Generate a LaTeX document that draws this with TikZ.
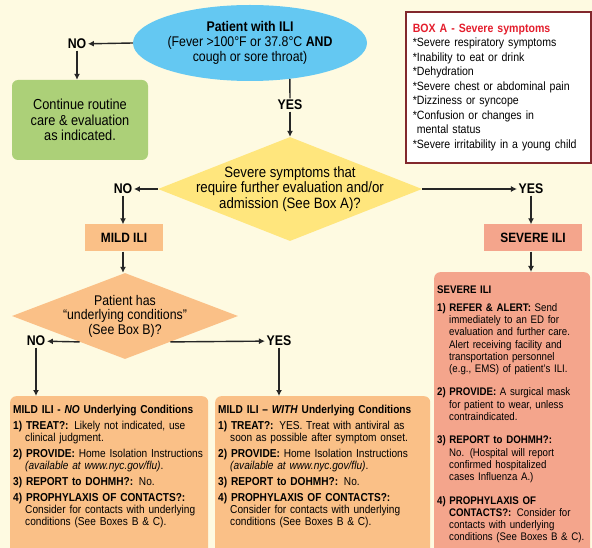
\documentclass[tikz,border=0pt]{standalone}
\usepackage{fontspec}
\setmainfont{Liberation Sans}[FakeStretch=0.88]
\usetikzlibrary{shapes,arrows.meta,positioning,calc}
\definecolor{PageCream}{RGB}{254, 250, 225}
\definecolor{SkyBlue}{RGB}{100, 200, 242}
\definecolor{LeafGreen}{RGB}{172, 208, 120}
\definecolor{SunYellow}{RGB}{255, 230, 125}
\definecolor{PeachMild}{RGB}{250, 192, 135}
\definecolor{SalmonSevere}{RGB}{244, 165, 140}
\definecolor{BoxRed}{RGB}{228, 30, 45}
\definecolor{BoxMaroon}{RGB}{130, 40, 45}
\newcommand{\careitem}[3]{{\hangindent=12pt\hangafter=1\noindent\textbf{#1)~#2} #3\par}}

\begin{document}
\begin{tikzpicture}[x=1pt, y=-1pt,
  flow/.style={line width=1.4pt, draw=black!85, -{Latex[length=6pt,width=6pt]}},
  plain/.style={line width=1.4pt, draw=black!85},
  answer/.style={font=\bfseries\fontsize{14}{16}\selectfont, inner sep=1.5pt},
  tagbox/.style={font=\bfseries\fontsize{13.5}{16}\selectfont, minimum height=27pt, inner sep=0pt},
  question/.style={diamond, shape aspect=2.6, inner sep=0pt},
  actionbox/.style={anchor=north west, rounded corners=6pt, text width=#1, align=left,
    inner xsep=3pt, inner ysep=9pt, font=\fontsize{11.5}{12}\selectfont,
    execute at begin node=\setlength{\parskip}{4pt}}]
  % Page
  \fill[PageCream] (0,0) rectangle (592,548);
  \useasboundingbox (0,0) rectangle (592,548);

  % Start
  \node[ellipse, fill=SkyBlue, minimum width=234pt, minimum height=76pt, inner sep=0pt,
    align=center, font=\fontsize{14}{15}\selectfont] (ili) at (250,43)
    {\textbf{Patient with ILI}\\(Fever >100°F or 37.8°C \textbf{AND}\\cough or sore throat)};

  % Box A
  \node[draw=BoxMaroon, line width=1.6pt, fill=white, anchor=north west, text width=171pt,
    align=left, inner sep=7pt, minimum height=151pt, font=\fontsize{12}{14.5}\selectfont] (boxA) at (405,11)
    {\textcolor{BoxRed}{\textbf{BOX A - Severe symptoms}}\\
     {*}Severe respiratory symptoms\\
     {*}Inability to eat or drink\\
     {*}Dehydration\\
     {*}Severe chest or abdominal pain\\
     {*}Dizziness or syncope\\
     {*}Confusion or changes in\\
     \hspace*{4pt}mental status\\
     {*}Severe irritability in a young child};

  % No ILI path
  \node[answer] (noTop) at (77,44) {NO};
  \draw[flow] (ili.west) -- (noTop);
  \node[fill=LeafGreen, rounded corners=6pt, minimum width=136pt, minimum height=80pt,
    align=center, font=\fontsize{14.5}{15.5}\selectfont] (routine) at (80,120)
    {Continue routine\\care \& evaluation\\as indicated.};
  \draw[flow] (noTop) -- (noTop |- routine.north);

  % Severity question
  \node[answer] (yesTop) at (290,105) {YES};
  \draw[plain] (ili.-42) -- (yesTop);
  \node[question, fill=SunYellow, minimum width=264pt, minimum height=104pt,
    label={[align=center, font=\fontsize{15}{15.5}\selectfont]center:Severe symptoms that\\require further evaluation and/or\\admission (See Box A)?}] (severe) at (290,189) {};
  \draw[flow] (yesTop) -- (severe.north);

  \node[answer] (noMid) at (123,189) {NO};
  \draw[flow] (severe.west) -- (noMid);
  \node[answer] (yesMid) at (531,189) {YES};
  \draw[flow] (severe.east) -- (yesMid);

  \node[tagbox, fill=PeachMild, minimum width=78pt] (mild) at (124,238) {MILD ILI};
  \draw[flow] (noMid) -- (noMid |- mild.north);
  \node[tagbox, fill=SalmonSevere, minimum width=98pt] (sevTag) at (533,238) {SEVERE ILI};
  \draw[flow] (yesMid) -- (yesMid |- sevTag.north);

  % Underlying conditions question
  \node[question, fill=PeachMild, minimum width=226pt, minimum height=86pt,
    label={[align=center, font=\fontsize{14}{14.5}\selectfont]center:Patient has\\``underlying conditions''\\(See Box B)?}] (cond) at (125,316) {};
  \draw[flow] (mild.south -| noMid) -- (noMid |- cond.north);

  \node[answer] (noLow) at (36,341) {NO};
  \draw[flow] ($(cond.west)!0.6!(cond.south)$) -- (noLow);
  \node[answer] (yesLow) at (279,341) {YES};
  \draw[flow] ($(cond.east)!0.6!(cond.south)$) -- (yesLow);

  % Action boxes (they run off the bottom of the page)
  \node[actionbox=192pt, fill=PeachMild] (mildNo) at (10,396)
    {\textbf{MILD ILI - \textit{NO} Underlying Conditions}\par
     \careitem{1}{TREAT?:}{Likely not indicated, use\newline clinical judgment.}
     \careitem{2}{PROVIDE:}{Home Isolation Instructions\newline\textit{(available at www.nyc.gov/flu)}.}
     \careitem{3}{REPORT to DOHMH?:}{No.}
     \careitem{4}{PROPHYLAXIS OF CONTACTS?:}{\newline Consider for contacts with underlying\newline conditions (See Boxes B \& C).}
     \noindent\rule{0pt}{30pt}};
  \node[actionbox=209pt, fill=PeachMild] (mildYes) at (215,396)
    {\textbf{MILD ILI -- \textit{WITH} Underlying Conditions}\par
     \careitem{1}{TREAT?:}{YES. Treat with antiviral as\newline soon as possible after symptom onset.}
     \careitem{2}{PROVIDE:}{Home Isolation Instructions\newline\textit{(available at www.nyc.gov/flu)}.}
     \careitem{3}{REPORT to DOHMH?:}{No.}
     \careitem{4}{PROPHYLAXIS OF CONTACTS?:}{\newline Consider for contacts with underlying\newline conditions (See Boxes B \& C).}
     \noindent\rule{0pt}{30pt}};
  \node[actionbox=150pt, fill=SalmonSevere, inner ysep=14pt, font=\fontsize{11}{12.3}\selectfont] (sevCare) at (434,272)
    {\setlength{\parskip}{11pt}\textbf{SEVERE ILI}\par\vspace{-6pt}
     \careitem{1}{REFER \& ALERT:}{Send\newline immediately to an ED for\newline evaluation and further care.\newline Alert receiving facility and\newline transportation personnel\newline (e.g., EMS) of patient's ILI.}
     \careitem{2}{PROVIDE:}{A surgical mask\newline for patient to wear, unless\newline contraindicated.}
     \careitem{3}{REPORT to DOHMH?:}{\newline No. (Hospital will report\newline confirmed hospitalized\newline cases Influenza A.)}
     \careitem{4}{PROPHYLAXIS OF}{\newline\textbf{CONTACTS?:} Consider for\newline contacts with underlying\newline conditions (See Boxes B \& C).}
     \noindent\rule{0pt}{20pt}};
  \draw[flow] (noLow) -- (noLow |- mildNo.north);
  \draw[flow] (yesLow) -- (yesLow |- mildYes.north);
  \draw[flow] (sevTag.south -| yesMid) -- (yesMid |- sevCare.north);
\end{tikzpicture}
\end{document}
